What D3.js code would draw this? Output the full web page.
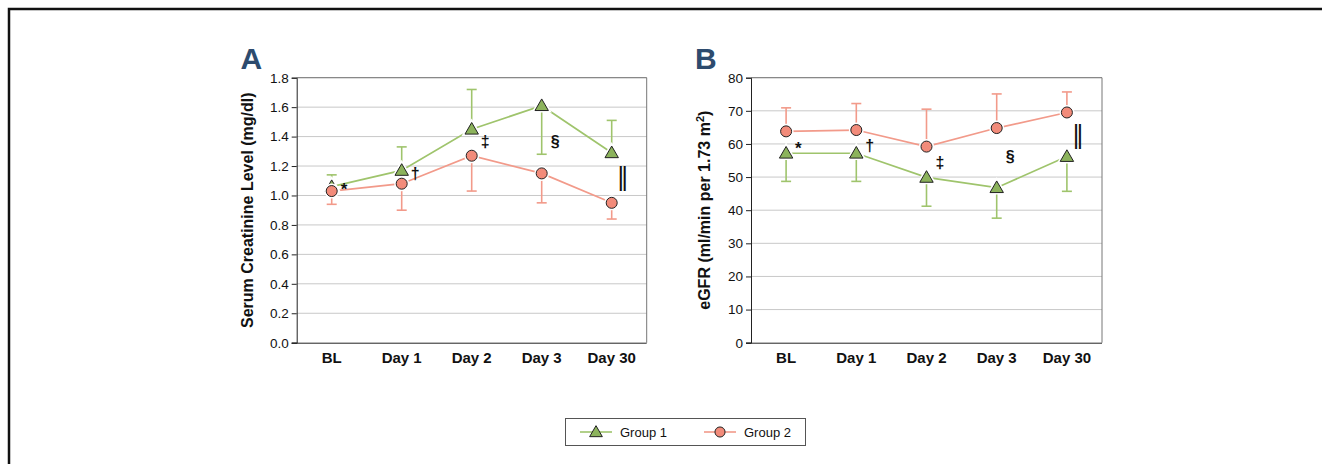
<!DOCTYPE html>
<html>
<head>
<meta charset="utf-8">
<script src="https://cdn.jsdelivr.net/npm/d3@7"></script>
<style>
  body { margin: 0; background: #fff; }
  svg { display: block; font-family: "Liberation Sans", Arial, Helvetica, sans-serif; }
</style>
</head>
<body>
<script>
// categories and values
var categories = ["BL", "Day 1", "Day 2", "Day 3", "Day 30"];

// panel A: serum creatinine (mg/dl)
var creatGroup1 = [1.06, 1.17, 1.45, 1.61, 1.29];
var creatGroup1Err = [1.14, 1.33, 1.72, 1.28, 1.51];
var creatGroup2 = [1.03, 1.08, 1.27, 1.15, 0.95];
var creatGroup2Err = [0.94, 0.90, 1.03, 0.95, 0.84];
var creatTicks = [0, 0.2, 0.4, 0.6, 0.8, 1.0, 1.2, 1.4, 1.6, 1.8];
var creatMarks = [1.065, 1.15, 1.37, 1.37, 1.12];

// panel B: eGFR (ml/min per 1.73 m2)
var egfrGroup1 = [57.2, 57.2, 49.9, 46.8, 56.2];
var egfrGroup1Err = [48.7, 48.7, 41.2, 37.6, 45.7];
var egfrGroup2 = [63.8, 64.2, 59.2, 64.8, 69.5];
var egfrGroup2Err = [70.9, 72.2, 70.5, 75.1, 75.7];
var egfrTicks = [0, 10, 20, 30, 40, 50, 60, 70, 80];
var egfrMarks = [59.9, 59.7, 54.3, 56.2, 62.2];

var signs = ["*", "\u2020", "\u2021", "\u00a7", "\u2016"];
var seriesNames = ["Group 1", "Group 2"];

var svgWidth = 1322;
var svgHeight = 464;

var green = "#9fc46c", greenFill = "#8cb35c";
var salmon = "#f29a8a", salmonFill = "#f28b7a";

var svg = d3.select("body").append("svg")
  .attr("width", svgWidth)
  .attr("height", svgHeight);

// outer frame (only top and left visible)
svg.append("rect")
  .attr("x", 9).attr("y", 9)
  .attr("width", svgWidth).attr("height", svgHeight)
  .attr("fill", "none").attr("stroke", "#111").attr("stroke-width", 2.5);

function drawPanel(opt) {
  var g = svg.append("g");

  var x = d3.scaleBand().domain(categories).range([opt.left, opt.right]).padding(0);
  var y = d3.scaleLinear().domain(opt.domain).range([opt.bottom, opt.top]);
  var cx = function(i) { return x(categories[i]) + x.bandwidth() / 2; };

  // gridlines
  g.selectAll(".grid").data(opt.ticks.slice(1))
    .enter().append("line")
    .attr("x1", opt.left).attr("x2", opt.right)
    .attr("y1", d => y(d)).attr("y2", d => y(d))
    .attr("stroke", "#c8c8c8").attr("stroke-width", 1);

  // frame top / right
  g.append("path")
    .attr("d", `M${opt.left},${y(opt.domain[1])}H${opt.right}V${opt.bottom}`)
    .attr("fill", "none").attr("stroke", "#777").attr("stroke-width", 1);

  // y axis
  var yAxis = d3.axisLeft(y).tickValues(opt.ticks).tickFormat(opt.format).tickSize(5).tickPadding(3);
  var ya = g.append("g").attr("transform", `translate(${opt.left},0)`).call(yAxis);
  ya.select(".domain").attr("stroke", "#222");
  ya.selectAll(".tick line").attr("stroke", "#222");
  ya.selectAll("text").attr("font-size", 13.5).attr("fill", "#111")
    .attr("font-family", "Liberation Sans, Arial, sans-serif");

  // x axis
  var xAxis = d3.axisBottom(x).tickSize(0).tickPadding(10);
  var xa = g.append("g").attr("transform", `translate(0,${opt.bottom})`).call(xAxis);
  xa.select(".domain").attr("stroke", "#222").attr("d", `M${opt.left - 5},0.5H${opt.right}`);
  xa.selectAll("text").attr("font-size", 15).attr("font-weight", "bold").attr("fill", "#111")
    .attr("font-family", "Liberation Sans, Arial, sans-serif");

  // y label
  var yl = g.append("text")
    .attr("transform", `translate(${opt.labelX},${(opt.top + opt.bottom) / 2}) rotate(-90)`)
    .attr("text-anchor", "middle")
    .attr("font-size", 16).attr("font-weight", "bold").attr("fill", "#111");
  opt.label(yl);

  // panel letter
  g.append("text")
    .attr("x", opt.letterX).attr("y", 69)
    .attr("font-size", 30).attr("font-weight", "bold").attr("fill", "#2d4b6e")
    .text(opt.letter);

  var line = d3.line().x((d, i) => cx(i)).y(d => y(d));

  var series = [
    { vals: opt.g1, err: opt.g1Err, color: green, fill: greenFill, sym: d3.symbolTriangle, size: 78 },
    { vals: opt.g2, err: opt.g2Err, color: salmon, fill: salmonFill, sym: d3.symbolCircle, size: 95 }
  ];

  series.forEach(function(s) {
    // error bars
    var eb = g.append("g");
    s.vals.forEach(function(v, i) {
      eb.append("line")
        .attr("x1", cx(i)).attr("x2", cx(i))
        .attr("y1", y(v)).attr("y2", y(s.err[i]))
        .attr("stroke", s.color).attr("stroke-width", 1.6);
      eb.append("line")
        .attr("x1", cx(i) - 5).attr("x2", cx(i) + 5)
        .attr("y1", y(s.err[i])).attr("y2", y(s.err[i]))
        .attr("stroke", s.color).attr("stroke-width", 1.6);
    });
  });

  series.forEach(function(s) {
    g.append("path").datum(s.vals)
      .attr("d", line)
      .attr("fill", "none").attr("stroke", s.color).attr("stroke-width", 1.7);
  });

  series.forEach(function(s) {
    var sym = d3.symbol().type(s.sym).size(s.size);
    var off = s.sym === d3.symbolTriangle ? 1 : 0;
    g.selectAll(null).data(s.vals).enter().append("path")
      .attr("transform", (d, i) => `translate(${cx(i)},${y(d) + off})`)
      .attr("d", sym)
      .attr("fill", "none").attr("stroke", "#fff").attr("stroke-width", 4);
    g.selectAll(null).data(s.vals).enter().append("path")
      .attr("transform", (d, i) => `translate(${cx(i)},${y(d) + off})`)
      .attr("d", sym)
      .attr("fill", s.fill).attr("stroke", "#222").attr("stroke-width", 1);
  });

  // significance marks
  var marks = g.selectAll(".sig").data(opt.marks).enter().append("text")
    .attr("font-weight", "bold").attr("fill", "#111")
    .text((d, i) => signs[i]);
  marks.filter((d, i) => i < 4)
    .attr("x", (d, i) => cx(i) + 9)
    .attr("y", d => y(d))
    .attr("dy", (d, i) => i === 0 ? "0.55em" : "0.35em")
    .attr("font-size", (d, i) => i === 0 ? 17 : 16);
  // double bar: tall and thin
  marks.filter((d, i) => i === 4)
    .attr("font-family", "DejaVu Sans, sans-serif")
    .attr("font-weight", "normal")
    .attr("font-size", 24)
    .attr("text-anchor", "middle")
    .attr("x", cx(4) + 11)
    .attr("y", d => y(d))
    .attr("dy", "0.28em");
}

drawPanel({
  left: 296.7, right: 646.7, top: 77.7, bottom: 342.7,
  domain: [0, 1.8], ticks: creatTicks, format: d3.format(".1f"),
  g1: creatGroup1, g1Err: creatGroup1Err, g2: creatGroup2, g2Err: creatGroup2Err,
  marks: creatMarks, letter: "A", letterX: 240.5, labelX: 252.5,
  label: function(t) { t.text("Serum Creatinine Level (mg/dl)"); }
});

drawPanel({
  left: 751, right: 1102, top: 77.7, bottom: 342.7,
  domain: [0, 80], ticks: egfrTicks, format: d3.format("d"),
  g1: egfrGroup1, g1Err: egfrGroup1Err, g2: egfrGroup2, g2Err: egfrGroup2Err,
  marks: egfrMarks, letter: "B", letterX: 695, labelX: 709.5,
  label: function(t) {
    t.append("tspan").text("eGFR (ml/min per 1.73 m");
    t.append("tspan").attr("dy", -6).attr("font-size", 11).text("2");
    t.append("tspan").attr("dy", 6).text(")");
  }
});

// legend
var legend = svg.append("g");
legend.append("rect")
  .attr("x", 565.5).attr("y", 418.5).attr("width", 240).attr("height", 27)
  .attr("fill", "#fff").attr("stroke", "#555").attr("stroke-width", 1);

var legendItems = [
  { name: seriesNames[0], color: green, fill: greenFill, sym: d3.symbolTriangle, size: 70, x0: 580 },
  { name: seriesNames[1], color: salmon, fill: salmonFill, sym: d3.symbolCircle, size: 80, x0: 704 }
];
legendItems.forEach(function(it) {
  legend.append("line")
    .attr("x1", it.x0).attr("x2", it.x0 + 32).attr("y1", 432).attr("y2", 432)
    .attr("stroke", it.color).attr("stroke-width", 1.6);
  legend.append("path")
    .attr("transform", `translate(${it.x0 + 16},${432 + (it.sym === d3.symbolTriangle ? 1 : 0)})`)
    .attr("d", d3.symbol().type(it.sym).size(it.size))
    .attr("fill", it.fill).attr("stroke", "#222").attr("stroke-width", 1);
  legend.append("text")
    .attr("x", it.x0 + 40).attr("y", 436.5)
    .attr("font-size", 13).attr("fill", "#111")
    .text(it.name);
});
</script>
</body>
</html>
